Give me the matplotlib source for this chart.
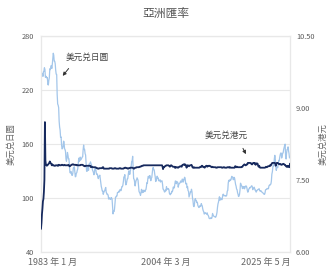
import matplotlib
matplotlib.use("Agg")
import matplotlib.pyplot as plt
import pandas as pd
from matplotlib.transforms import ScaledTranslation

plt.rcParams['font.family'] = ['Noto Sans CJK SC', 'DejaVu Sans']

title = "亞洲匯率"
label_jpy = "美元兑日圆"
label_hkd = "美元兑港元"
start_month = "1983-01-01"
x_tick_dates = ["1983-01-01", "2004-03-01", "2025-05-01"]
x_tick_labels = ["1983 年 1 月", "2004 年 3 月", "2025 年 5 月"]
left_ticks = [40, 100, 160, 220, 280]
right_ticks = [6.00, 7.50, 9.00, 10.50]

# USD/JPY monthly (left axis)
jpy = [
    232.7, 236.0, 238.3, 237.7, 234.8, 240.0, 240.5, 244.4, 242.5, 233.8, 235.0, 234.3,  # 1983
    233.1, 233.4, 225.8, 225.2, 230.4, 233.3, 243.2, 242.3, 245.0, 246.9, 243.6, 247.9,  # 1984
    254.2, 260.5, 258.4, 251.7, 251.6, 248.9, 241.7, 237.2, 236.9, 214.7, 204.1, 202.8,  # 1985
    200.1, 184.9, 178.7, 175.1, 167.0, 167.5, 158.6, 154.2, 154.8, 156.5, 162.8, 162.0,  # 1986
    154.5, 153.5, 151.6, 143.0, 140.5, 144.5, 150.3, 147.3, 143.3, 143.3, 135.4, 128.2,  # 1987
    127.4, 129.2, 127.2, 124.9, 124.8, 127.5, 133.1, 133.7, 134.4, 128.5, 123.2, 123.6,  # 1988
    127.2, 127.8, 130.4, 132.0, 138.4, 143.9, 140.4, 141.1, 145.1, 141.9, 143.5, 143.7,  # 1989
    145.1, 145.5, 153.1, 158.5, 153.5, 153.7, 149.0, 147.5, 138.4, 129.6, 129.2, 133.9,  # 1990
    133.7, 130.5, 137.4, 137.1, 138.2, 139.8, 137.8, 136.8, 134.3, 130.8, 129.6, 128.0,  # 1991
    125.5, 127.7, 132.7, 133.5, 130.8, 126.8, 125.9, 126.3, 122.6, 121.2, 123.9, 123.9,  # 1992
    125.0, 120.8, 117.0, 112.4, 110.3, 107.4, 107.7, 103.8, 105.7, 107.0, 107.8, 109.9,  # 1993
    111.4, 106.3, 105.1, 103.5, 103.8, 102.7, 98.5, 100.0, 98.8, 98.4, 98.0, 100.2,      # 1994
    99.8, 98.2, 90.8, 82.0, 85.2, 84.6, 87.2, 94.7, 100.6, 100.7, 101.9, 101.9,          # 1995
    105.8, 105.8, 105.9, 107.4, 106.5, 108.8, 109.2, 107.8, 109.8, 112.3, 112.3, 113.9,  # 1996
    117.9, 122.9, 122.8, 125.6, 119.2, 114.3, 115.1, 117.9, 120.9, 121.1, 125.4, 129.7,  # 1997
    129.6, 125.9, 129.0, 131.9, 135.0, 140.3, 140.7, 146.0, 134.5, 121.1, 120.6, 117.4,  # 1998
    113.1, 116.7, 119.5, 119.8, 122.1, 120.7, 119.5, 113.2, 106.9, 105.9, 104.7, 102.6,  # 1999
    105.2, 109.3, 106.3, 105.6, 108.3, 106.1, 108.2, 108.1, 106.8, 108.4, 109.0, 112.2,  # 2000
    116.7, 116.1, 121.2, 123.8, 122.0, 122.1, 124.6, 121.5, 118.9, 121.5, 122.4, 127.6,  # 2001
    132.7, 133.6, 131.1, 130.8, 126.4, 123.3, 118.0, 118.9, 121.4, 123.9, 121.5, 122.0,  # 2002
    118.8, 119.3, 118.7, 119.9, 117.4, 118.3, 118.7, 118.7, 114.8, 109.5, 109.2, 107.7,  # 2003
    106.3, 106.7, 108.5, 107.7, 112.2, 109.4, 109.4, 110.2, 110.0, 108.8, 104.7, 103.8,  # 2004
    103.3, 104.9, 104.9, 107.2, 106.6, 108.8, 111.9, 110.6, 111.2, 114.9, 118.5, 118.5,  # 2005
    115.5, 117.9, 117.3, 117.1, 111.7, 114.5, 115.6, 115.9, 117.2, 118.6, 117.3, 117.3,  # 2006
    120.6, 120.5, 117.3, 118.8, 120.8, 122.7, 121.6, 116.7, 115.0, 115.9, 111.1, 112.4,  # 2007
    107.8, 107.1, 100.8, 102.6, 104.4, 106.9, 106.4, 109.4, 106.6, 100.1, 96.8, 91.3,    # 2008
    90.1, 92.9, 97.9, 99.0, 96.6, 96.6, 94.5, 94.9, 91.3, 90.3, 89.1, 89.5,              # 2009
    91.1, 90.2, 90.6, 93.4, 91.8, 90.9, 87.6, 85.4, 84.4, 81.8, 82.4, 83.4,              # 2010
    82.6, 82.5, 81.6, 83.2, 81.1, 80.5, 79.3, 77.1, 76.8, 76.7, 77.5, 77.8,              # 2011
    76.9, 78.5, 82.5, 81.2, 79.7, 79.3, 78.9, 78.7, 78.2, 79.0, 80.9, 83.6,              # 2012
    89.2, 93.1, 94.9, 97.8, 101.0, 97.2, 99.7, 97.9, 99.2, 97.8, 100.1, 103.5,           # 2013
    103.9, 102.1, 102.3, 102.5, 101.8, 102.1, 101.8, 102.9, 107.4, 108.0, 116.4, 119.3,  # 2014
    118.3, 118.8, 120.4, 119.5, 120.8, 123.7, 123.3, 123.0, 120.1, 120.1, 122.6, 121.6,  # 2015
    118.2, 114.6, 112.9, 109.6, 108.9, 105.5, 103.9, 101.3, 101.9, 103.8, 108.6, 116.1,  # 2016
    114.9, 113.1, 112.9, 110.1, 112.2, 110.9, 112.4, 109.9, 110.8, 112.9, 112.8, 112.9,  # 2017
    110.9, 107.8, 106.1, 107.5, 109.7, 110.1, 111.4, 111.0, 111.9, 112.8, 113.3, 112.2,  # 2018
    108.9, 110.4, 111.1, 111.7, 110.0, 108.1, 108.2, 106.2, 107.5, 108.2, 108.9, 109.2,  # 2019
    109.3, 110.0, 107.7, 107.8, 107.2, 107.6, 106.7, 106.0, 105.6, 105.2, 104.4, 103.8,  # 2020
    103.7, 105.4, 108.6, 109.1, 109.1, 110.1, 110.3, 109.8, 110.1, 113.1, 114.0, 113.8,  # 2021
    114.8, 115.2, 118.5, 126.2, 128.7, 133.9, 136.7, 135.3, 143.1, 147.1, 142.5, 134.9,  # 2022
    130.4, 133.2, 133.9, 133.4, 137.1, 141.4, 140.9, 144.8, 147.8, 149.6, 149.6, 144.1,  # 2023
    146.3, 149.5, 149.8, 153.6, 155.9, 157.9, 159.5, 146.3, 143.0, 149.6, 153.6, 153.7,  # 2024
    156.5, 151.9, 149.1, 144.2, 144.9,                                                   # 2025
]

# USD/HKD monthly (right axis)
hkd = [
    6.48, 6.60, 6.78, 6.90, 7.05, 7.10, 7.25, 7.50, 8.70, 7.90, 7.82, 7.80,  # 1983
    7.79, 7.81, 7.81, 7.82, 7.84, 7.85, 7.88, 7.86, 7.84, 7.83, 7.80, 7.82,  # 1984
    7.80, 7.80, 7.80, 7.79, 7.79, 7.79, 7.80, 7.80, 7.80, 7.80, 7.79, 7.79,  # 1985
    7.81, 7.81, 7.80, 7.80, 7.80, 7.80, 7.81, 7.81, 7.81, 7.80, 7.80, 7.80,  # 1986
    7.81, 7.80, 7.80, 7.80, 7.80, 7.80, 7.80, 7.80, 7.81, 7.80, 7.78, 7.78,  # 1987
    7.79, 7.80, 7.81, 7.81, 7.82, 7.82, 7.82, 7.81, 7.81, 7.81, 7.81, 7.81,  # 1988
    7.80, 7.81, 7.80, 7.80, 7.80, 7.80, 7.80, 7.80, 7.80, 7.81, 7.81, 7.81,  # 1989
    7.81, 7.81, 7.80, 7.79, 7.79, 7.78, 7.78, 7.79, 7.79, 7.79, 7.79, 7.79,  # 1990
    7.79, 7.79, 7.79, 7.79, 7.79, 7.79, 7.76, 7.77, 7.77, 7.76, 7.76, 7.76,  # 1991
    7.76, 7.76, 7.76, 7.76, 7.75, 7.75, 7.74, 7.74, 7.73, 7.73, 7.73, 7.74,  # 1992
    7.74, 7.74, 7.74, 7.74, 7.74, 7.75, 7.76, 7.76, 7.73, 7.73, 7.73, 7.73,  # 1993
    7.73, 7.73, 7.73, 7.73, 7.73, 7.73, 7.73, 7.73, 7.74, 7.74, 7.74, 7.74,  # 1994
    7.74, 7.73, 7.73, 7.73, 7.73, 7.73, 7.74, 7.74, 7.74, 7.73, 7.73, 7.73,  # 1995
    7.73, 7.73, 7.73, 7.73, 7.74, 7.74, 7.74, 7.73, 7.73, 7.73, 7.73, 7.73,  # 1996
    7.73, 7.74, 7.74, 7.75, 7.75, 7.75, 7.74, 7.74, 7.74, 7.73, 7.73, 7.74,  # 1997
    7.74, 7.74, 7.75, 7.75, 7.75, 7.75, 7.75, 7.75, 7.74, 7.73, 7.73, 7.74,  # 1998
    7.75, 7.75, 7.75, 7.76, 7.76, 7.76, 7.76, 7.76, 7.76, 7.77, 7.77, 7.77,  # 1999
    7.78, 7.78, 7.79, 7.79, 7.79, 7.80, 7.80, 7.80, 7.80, 7.80, 7.80, 7.80,  # 2000
    7.80, 7.80, 7.80, 7.80, 7.80, 7.80, 7.80, 7.80, 7.80, 7.80, 7.80, 7.80,  # 2001
    7.80, 7.80, 7.80, 7.80, 7.80, 7.80, 7.80, 7.80, 7.80, 7.80, 7.80, 7.80,  # 2002
    7.80, 7.80, 7.80, 7.80, 7.80, 7.80, 7.80, 7.80, 7.77, 7.72, 7.76, 7.76,  # 2003
    7.77, 7.78, 7.79, 7.79, 7.80, 7.80, 7.80, 7.80, 7.80, 7.79, 7.78, 7.77,  # 2004
    7.79, 7.80, 7.80, 7.79, 7.78, 7.77, 7.77, 7.77, 7.77, 7.75, 7.76, 7.75,  # 2005
    7.76, 7.76, 7.76, 7.75, 7.75, 7.76, 7.77, 7.77, 7.78, 7.78, 7.78, 7.77,  # 2006
    7.80, 7.81, 7.81, 7.82, 7.82, 7.81, 7.82, 7.80, 7.80, 7.75, 7.78, 7.80,  # 2007
    7.80, 7.79, 7.78, 7.79, 7.80, 7.80, 7.80, 7.81, 7.79, 7.76, 7.75, 7.75,  # 2008
    7.76, 7.75, 7.75, 7.75, 7.75, 7.75, 7.75, 7.75, 7.75, 7.75, 7.75, 7.75,  # 2009
    7.76, 7.77, 7.76, 7.77, 7.79, 7.79, 7.77, 7.77, 7.76, 7.76, 7.75, 7.77,  # 2010
    7.78, 7.79, 7.79, 7.77, 7.78, 7.78, 7.79, 7.79, 7.79, 7.78, 7.78, 7.77,  # 2011
    7.76, 7.76, 7.77, 7.76, 7.76, 7.76, 7.76, 7.76, 7.76, 7.75, 7.75, 7.75,  # 2012
    7.76, 7.76, 7.76, 7.76, 7.76, 7.76, 7.76, 7.76, 7.76, 7.75, 7.75, 7.75,  # 2013
    7.76, 7.76, 7.76, 7.75, 7.75, 7.75, 7.75, 7.75, 7.76, 7.76, 7.76, 7.76,  # 2014
    7.75, 7.76, 7.76, 7.75, 7.75, 7.75, 7.75, 7.75, 7.75, 7.75, 7.75, 7.75,  # 2015
    7.78, 7.78, 7.76, 7.76, 7.77, 7.76, 7.76, 7.76, 7.76, 7.76, 7.76, 7.76,  # 2016
    7.76, 7.76, 7.77, 7.77, 7.79, 7.80, 7.81, 7.82, 7.81, 7.80, 7.80, 7.81,  # 2017
    7.82, 7.82, 7.85, 7.85, 7.85, 7.85, 7.85, 7.85, 7.84, 7.84, 7.82, 7.82,  # 2018
    7.84, 7.85, 7.85, 7.84, 7.85, 7.82, 7.81, 7.84, 7.84, 7.84, 7.83, 7.79,  # 2019
    7.77, 7.79, 7.77, 7.75, 7.75, 7.75, 7.75, 7.75, 7.75, 7.75, 7.75, 7.75,  # 2020
    7.75, 7.75, 7.76, 7.77, 7.76, 7.76, 7.77, 7.78, 7.78, 7.78, 7.79, 7.80,  # 2021
    7.79, 7.80, 7.82, 7.84, 7.85, 7.85, 7.85, 7.85, 7.85, 7.85, 7.83, 7.79,  # 2022
    7.83, 7.85, 7.85, 7.85, 7.84, 7.83, 7.82, 7.83, 7.83, 7.82, 7.81, 7.81,  # 2023
    7.82, 7.82, 7.83, 7.83, 7.82, 7.81, 7.81, 7.79, 7.78, 7.77, 7.78, 7.77,  # 2024
    7.79, 7.77, 7.77, 7.76, 7.83,                                            # 2025
]

dates = pd.date_range(start_month, periods=len(jpy), freq="MS")

fig = plt.figure(figsize=(3.32, 2.71), dpi=100)
ax = fig.add_axes([41/332, 19.3/271, 249/332, 216/271])
ax2 = ax.twinx()

jpy_color = "#a3c6ea"
hkd_color = "#172a5e"
grid_color = "#e8e8e8"
text_color = "#5a5a5a"

ax.plot(dates, jpy, color=jpy_color, lw=0.9, zorder=2)
ax2.plot(dates[:len(hkd)], hkd, color=hkd_color, lw=1.3, zorder=3)

ax.set_xlim(pd.Timestamp(x_tick_dates[0]), pd.Timestamp(x_tick_dates[-1]))
ax.set_ylim(left_ticks[0], left_ticks[-1])
ax2.set_ylim(right_ticks[0], right_ticks[-1])

ax.set_yticks(left_ticks)
ax.set_yticklabels([str(t) for t in left_ticks])
ax2.set_yticks(right_ticks)
ax2.set_yticklabels([f"{t:.2f}" for t in right_ticks])

ax.set_xticks([pd.Timestamp(d) for d in x_tick_dates])
ax.set_xticklabels(x_tick_labels)

ax.grid(axis="y", color=grid_color, lw=0.8)
ax.set_axisbelow(True)
for a in (ax, ax2):
    for s in a.spines.values():
        s.set_color(grid_color)
        s.set_linewidth(0.8)
    a.tick_params(length=0)

ax.tick_params(axis="y", labelsize=5.3, labelcolor=text_color, pad=5.3)
ax2.tick_params(axis="y", labelsize=5.3, labelcolor=text_color, pad=4.3)
ax.tick_params(axis="x", labelsize=6.5, labelcolor="#666666", pad=4.3)

xlabels = ax.get_xticklabels()
xlabels[0].set_ha("left")
xlabels[0].set_transform(xlabels[0].get_transform() + ScaledTranslation(-13/100, 0, fig.dpi_scale_trans))
xlabels[-1].set_ha("right")
xlabels[-1].set_transform(xlabels[-1].get_transform() + ScaledTranslation(1/100, 0, fig.dpi_scale_trans))

ax.set_ylabel(label_jpy, fontsize=6, color="#666666", labelpad=4)
ax2.set_ylabel(label_hkd, fontsize=6, color="#666666", rotation=90, labelpad=3)

fig.text(0.5, 1 - 14/271, title, ha="center", va="center", fontsize=8.5, color="#555555")

ax.text(0.100, 0.898, label_jpy, transform=ax.transAxes, fontsize=6.2, color="#444444",
        ha="left", va="center")
ax.annotate("", xy=(0.080, 0.804), xytext=(0.118, 0.858), xycoords="axes fraction",
            textcoords="axes fraction",
            arrowprops=dict(arrowstyle="-|>", lw=0.7, color="#333333", mutation_scale=5))
ax.text(0.659, 0.540, label_hkd, transform=ax.transAxes, fontsize=6.2, color="#444444",
        ha="left", va="center")
ax.annotate("", xy=(0.828, 0.440), xytext=(0.806, 0.490), xycoords="axes fraction",
            textcoords="axes fraction",
            arrowprops=dict(arrowstyle="-|>", lw=0.7, color="#333333", mutation_scale=5))

fig.savefig("out.png", dpi=100)
